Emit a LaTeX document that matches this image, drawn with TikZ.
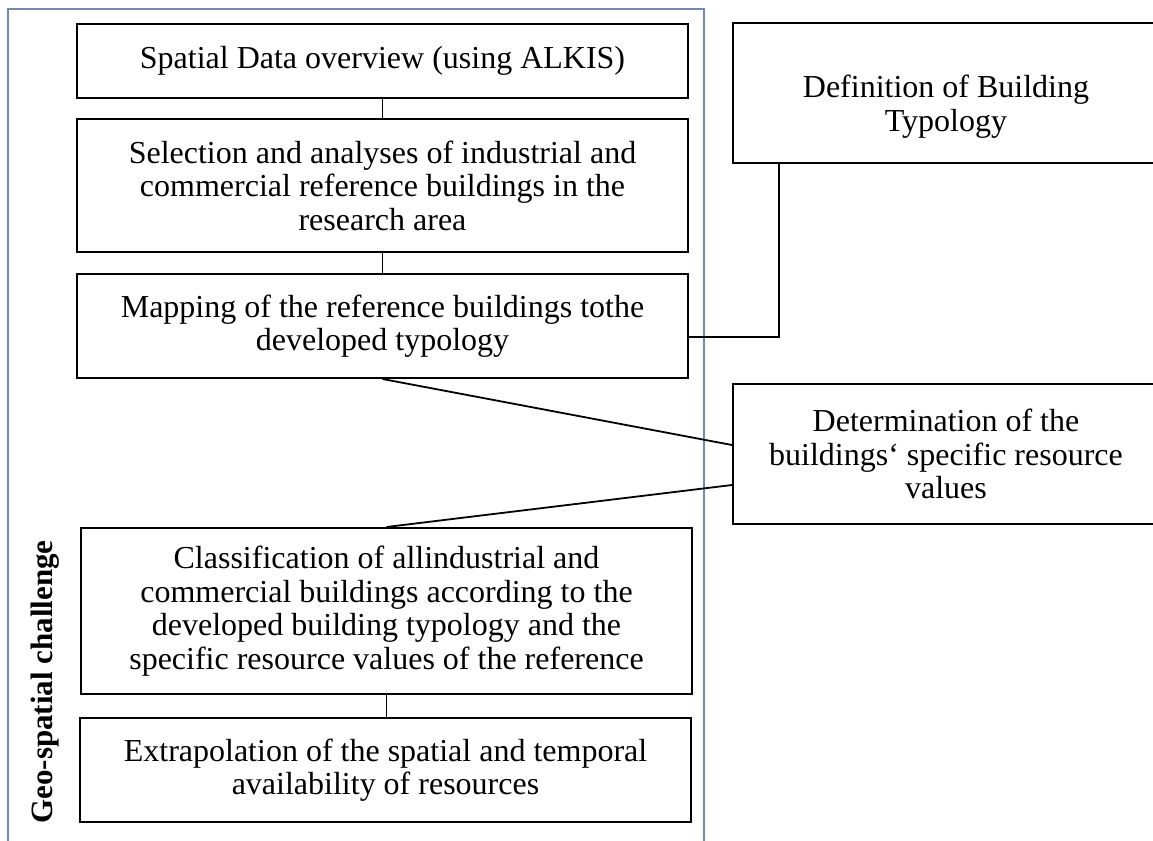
\documentclass[tikz,border=0pt]{standalone}
\usepackage{fontspec}
\setmainfont{Liberation Serif}
\definecolor{framecolor}{RGB}{116,138,172}
\begin{document}
\begin{tikzpicture}
[x=0.5pt, y=-0.5pt,
  boxdecorate/.style={shape=rectangle,draw,line width=1pt,align=center,inner sep=0pt,
    font=\fontsize{16}{16.8}\selectfont},%
  linedecorate/.style={-,line width=0.9pt},
  framedecorate/.style={draw=framecolor,line width=0.8pt}]
\useasboundingbox (0,0) rectangle (1153,841);
%% frame of the geo-spatial part
\draw[framedecorate] (8,860) |- (704,9) -- (704,860);
\node (geolabel) at (45,682) [rotate=90,font=\fontsize{15.5}{16.5}\selectfont\bfseries]
  {Geo-spatial challenge};
%% nodes or boxes
\foreach \nodename/\x/\y/\w/\h/\nodetext in {
  spatial/382.5/61/305.5/37/{Spatial Data overview (using ALKIS)},
  selection/382.5/185.5/305.5/66.5/{Selection and analyses of industrial and\\
    commercial reference buildings in the\\research area},
  mapping/382.5/326/305.5/52/{Mapping of the reference buildings tothe\\developed typology},
  classification/386.5/611/305.5/83/{Classification of allindustrial and\\
    commercial buildings according to the\\developed building typology and the\\
    specific resource values of the reference},
  extrapolation/385.5/770/305.5/52/{Extrapolation of the spatial and temporal\\
    availability of resources},
  definition/946/93/213/70/{\rule{0pt}{25pt}Definition of Building\\Typology},
  determination/946/454/213/70/{Determination of the\\buildings‘ specific resource\\values}}
{
  \node (\nodename) at (\x,\y) [boxdecorate,minimum width=\w pt,minimum height=\h pt] {\nodetext};
}
%% edges or lines
\path
\foreach \startnode/\endnode in {spatial/selection, selection/mapping} {
  (\startnode.south) edge[linedecorate] (\endnode.north)
};
\draw[linedecorate] (classification.south) -- (classification.south |- extrapolation.north);
\draw[linedecorate] ([xshift=23.5pt]definition.south west) |- ([yshift=-5.5pt]mapping.east);
\draw[linedecorate] (mapping.south) -- ([yshift=4.5pt]determination.west);
\draw[linedecorate] ([yshift=-15.5pt]determination.west) -- (classification.north);
\end{tikzpicture}
\end{document}
